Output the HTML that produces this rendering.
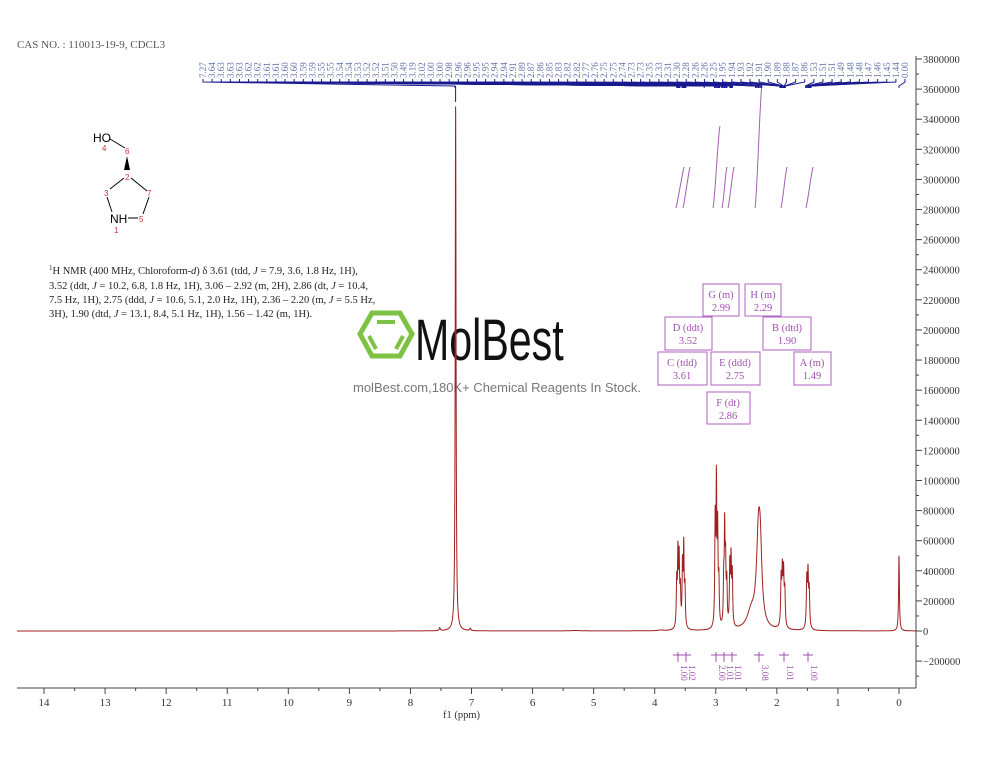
<!DOCTYPE html>
<html><head><meta charset="utf-8"><style>
body{margin:0;background:#fff;width:1000px;height:773px;overflow:hidden}
svg{display:block}
.s{font-family:"Liberation Serif",serif}
</style></head><body>
<svg id="c" width="1000" height="773" viewBox="0 0 1000 773" xmlns="http://www.w3.org/2000/svg">
<text x="17" y="48" class="s" font-size="11" fill="#555">CAS NO. : 110013-19-9, CDCL3</text>
<g font-family="Liberation Sans,sans-serif">
<text x="93" y="142" font-size="12" fill="#000">HO</text>
<text x="102" y="151" font-size="8" fill="#d03030">4</text>
<line x1="110" y1="139" x2="125" y2="148" stroke="#000" stroke-width="1"/>
<text x="125" y="154" font-size="8" fill="#d03030">6</text>
<polygon points="127,156 130,170 124,170" fill="#000"/>
<text x="125" y="180" font-size="8" fill="#d03030">2</text>
<line x1="124" y1="178" x2="110" y2="189" stroke="#000"/>
<line x1="131" y1="178" x2="147" y2="191" stroke="#000"/>
<text x="104" y="196" font-size="8" fill="#d03030">3</text>
<text x="147" y="196" font-size="8" fill="#d03030">7</text>
<line x1="107" y1="197" x2="112" y2="212" stroke="#000"/>
<line x1="149" y1="197" x2="143" y2="214" stroke="#000"/>
<text x="110" y="223" font-size="12" fill="#000">NH</text>
<line x1="128" y1="218" x2="138" y2="218" stroke="#000"/>
<text x="139" y="222" font-size="8" fill="#d03030">5</text>
<text x="114" y="233" font-size="8" fill="#d03030">1</text>
</g>
<g class="s" font-size="10.5" fill="#222">
<text x="49" y="274"><tspan font-size="7" dy="-4">1</tspan><tspan dy="4">H NMR (400 MHz, Chloroform-</tspan><tspan font-style="italic">d</tspan>) δ 3.61 (tdd, <tspan font-style="italic">J</tspan> = 7.9, 3.6, 1.8 Hz, 1H),</text>
<text x="49" y="289">3.52 (ddt, <tspan font-style="italic">J</tspan> = 10.2, 6.8, 1.8 Hz, 1H), 3.06 – 2.92 (m, 2H), 2.86 (dt, <tspan font-style="italic">J</tspan> = 10.4,</text>
<text x="49" y="303">7.5 Hz, 1H), 2.75 (ddd, <tspan font-style="italic">J</tspan> = 10.6, 5.1, 2.0 Hz, 1H), 2.36 – 2.20 (m, <tspan font-style="italic">J</tspan> = 5.5 Hz,</text>
<text x="49" y="317">3H), 1.90 (dtd, <tspan font-style="italic">J</tspan> = 13.1, 8.4, 5.1 Hz, 1H), 1.56 – 1.42 (m, 1H).</text>
</g>
<g>
<polygon points="372,313 400,313 412,334 400,356 372,356 360,334" fill="none" stroke="#7dc242" stroke-width="5"/>
<line x1="377" y1="322" x2="395" y2="322" stroke="#7dc242" stroke-width="4"/>
<line x1="369" y1="336" x2="376" y2="349" stroke="#7dc242" stroke-width="4"/>
<line x1="403" y1="336" x2="396" y2="349" stroke="#7dc242" stroke-width="4"/>
<text x="0" y="0" font-family="Liberation Sans,sans-serif" font-size="58" fill="#111" transform="translate(415,360) scale(0.71,1)">MolBest</text>
<text x="353" y="392" font-family="Liberation Sans,sans-serif" font-size="13" fill="#777">molBest.com,180K+ Chemical Reagents In Stock.</text>
</g>
<line x1="17" y1="688" x2="916" y2="688" stroke="#444"/>
<line x1="916" y1="56" x2="916" y2="688" stroke="#444"/>
<g id="ax"></g>
<text x="443" y="718" class="s" font-size="10.5" fill="#333">f1 (ppm)</text>
<g id="sp"></g>
<g class="s" font-size="10.5" fill="#a050b0" stroke="none">
<g fill="none" stroke="#b060c0">
<rect x="703" y="284" width="36" height="32"/><rect x="745" y="284" width="36" height="32"/>
<rect x="665" y="317" width="47" height="33"/><rect x="763" y="317" width="48" height="33"/>
<rect x="658" y="352" width="49" height="33"/><rect x="711" y="352" width="49" height="33"/>
<rect x="794" y="352" width="37" height="33"/><rect x="707" y="392" width="43" height="32"/>
</g>
<text x="721" y="298" text-anchor="middle">G (m)</text><text x="721" y="311" text-anchor="middle">2.99</text>
<text x="763" y="298" text-anchor="middle">H (m)</text><text x="763" y="311" text-anchor="middle">2.29</text>
<text x="688" y="331" text-anchor="middle">D (ddt)</text><text x="688" y="344" text-anchor="middle">3.52</text>
<text x="787" y="331" text-anchor="middle">B (dtd)</text><text x="787" y="344" text-anchor="middle">1.90</text>
<text x="682" y="366" text-anchor="middle">C (tdd)</text><text x="682" y="379" text-anchor="middle">3.61</text>
<text x="735" y="366" text-anchor="middle">E (ddd)</text><text x="735" y="379" text-anchor="middle">2.75</text>
<text x="812" y="366" text-anchor="middle">A (m)</text><text x="812" y="379" text-anchor="middle">1.49</text>
<text x="728" y="406" text-anchor="middle">F (dt)</text><text x="728" y="419" text-anchor="middle">2.86</text>
</g>
</svg>
<script>
const NS="http://www.w3.org/2000/svg";
function el(p,t,a,tx){const e=document.createElementNS(NS,t);for(const k in a)e.setAttribute(k,a[k]);if(tx!==undefined)e.textContent=tx;p.appendChild(e);return e;}
const X=p=>899-61.07*p, Y=v=>631-v*(572/3800000);
const ax=document.getElementById('ax'), sp=document.getElementById('sp');
for(let p=0;p<=14;p++){el(ax,'line',{x1:X(p),y1:688,x2:X(p),y2:694,stroke:'#444'});el(ax,'text',{x:X(p),y:706,'text-anchor':'middle','font-size':11,'font-family':'Liberation Serif,serif',fill:'#333'},p);
 if(p<14)el(ax,'line',{x1:X(p+0.5),y1:688,x2:X(p+0.5),y2:691,stroke:'#444'});}
for(let v=-300000;v<=3800000;v+=100000){const y=Y(v);if(y<56||y>688)continue;const maj=v%200000==0;
 el(ax,'line',{x1:916,y1:y,x2:maj?922:919,y2:y,stroke:'#444'});
 if(maj)el(ax,'text',{x:923,y:y+4,'font-size':10.5,'font-family':'Liberation Serif,serif',fill:'#333'},(v<0?'−':'')+Math.abs(v));}
const pk=[[7.26,3500000,.008],[7.52,20000,.01],[7.02,15000,.01],[0,500000,.008],
[3.64,300000,.008],[3.62,480000,.008],[3.60,440000,.008],[3.58,230000,.008],[3.545,400000,.008],[3.525,520000,.008],[3.505,250000,.008],
[3.01,700000,.008],[2.99,900000,.007],[2.97,620000,.008],[2.95,280000,.008],[2.87,300000,.008],[2.855,600000,.007],[2.84,400000,.008],[2.82,280000,.008],
[2.77,400000,.008],[2.75,430000,.008],[2.73,340000,.008],[2.30,600000,.04],[2.27,330000,.03],[2.42,110000,.08],
[1.93,310000,.009],[1.91,350000,.009],[1.89,340000,.009],[1.87,230000,.009],[1.51,320000,.009],[1.49,350000,.009],[1.47,240000,.009],[5.3,3000,.1],[3.9,4000,.05]];
let d='';for(let x=17;x<=916;x+=0.1){const p=(899-x)/61.07;let v=0;for(const[c,h,w]of pk){const t=(p-c)/w;v+=h/(1+t*t);}d+=(d?'L':'M')+x.toFixed(2)+','+Y(v).toFixed(1);}
el(sp,'path',{d:d,fill:'none',stroke:'#a02020','stroke-width':1});
[[676,684,167],[683,690,167],[713,720,126],[722,727,167],[728,734,167],[755,762,85],[781,787,167],[806,813,167]].forEach(([a,b,y2])=>el(sp,'path',{d:`M${a},208 C${a+2},200 ${b-2},${y2+8} ${b},${y2}`,fill:'none',stroke:'#a060b0','stroke-width':1}));
[[678,'1.00'],[686,'1.02'],[716,'2.00'],[724,'1.01'],[732,'1.01'],[759,'3.08'],[784,'1.01'],[808,'1.00']].forEach(([x,t])=>{
 el(sp,'line',{x1:x-5,y1:655,x2:x+5,y2:655,stroke:'#a050b0'});el(sp,'line',{x1:x,y1:652,x2:x,y2:662,stroke:'#a050b0'});
 el(sp,'text',{x:0,y:0,transform:`translate(${x+3},665) rotate(90)`,'font-size':9,'font-family':'Liberation Serif,serif',fill:'#a050b0'},t);});
const L=['7.27','3.64','3.63','3.63','3.63','3.62','3.62','3.61','3.61','3.60','3.60','3.59','3.59','3.55','3.55','3.54','3.54','3.53','3.52','3.52','3.51','3.50','3.49','3.19','3.02','3.00','3.00','2.98','2.96','2.96','2.95','2.95','2.94','2.94','2.91','2.89','2.87','2.86','2.85','2.83','2.82','2.82','2.77','2.76','2.75','2.75','2.74','2.73','2.73','2.35','2.33','2.31','2.30','2.28','2.26','2.26','2.25','1.95','1.94','1.93','1.92','1.91','1.90','1.89','1.88','1.87','1.86','1.53','1.51','1.51','1.49','1.48','1.48','1.47','1.46','1.45','1.44','0.00'];
const n=L.length;
L.forEach((t,i)=>{const x=203+i*(905-203)/(n-1);
 el(sp,'text',{x:0,y:0,transform:`translate(${x+3},78) rotate(-90)`,'font-size':9,'font-family':'Liberation Serif,serif',fill:'#6070a8'},t);
 const tp=X(parseFloat(t));
 el(sp,'path',{d:`M${x},79 L${x},82 L${tp},86 L${tp},88`,fill:'none',stroke:'#1a1a90','stroke-width':1});});
el(sp,'line',{x1:455.6,y1:86,x2:455.6,y2:102,stroke:'#1a1a90'});
</script>
</body></html>
